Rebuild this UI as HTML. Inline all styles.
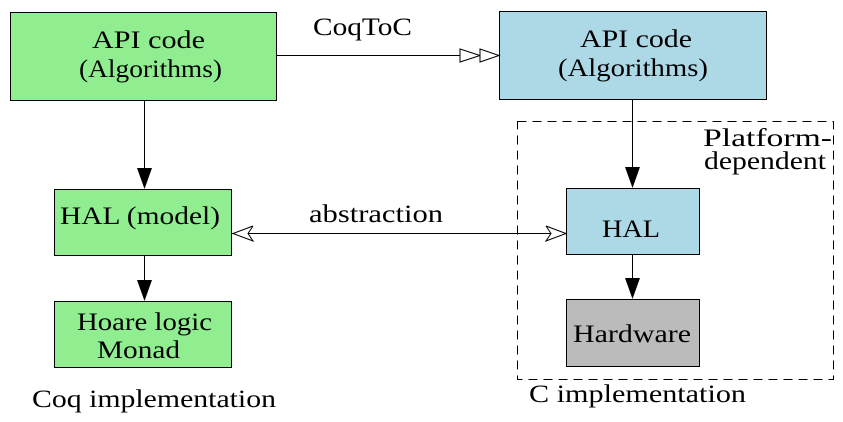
<!DOCTYPE html>
<html><head><meta charset="utf-8"><style>
html,body{margin:0;padding:0;background:#fff;}
svg{display:block;}
</style></head><body>
<svg width="843" height="422" viewBox="0 0 843 422" xmlns="http://www.w3.org/2000/svg">
<rect x="517.5" y="121.5" width="316" height="258" fill="none" stroke="#000" stroke-width="1" stroke-dasharray="9,6"/>
<rect x="10.5" y="12.5" width="266" height="88" fill="#90ee90" stroke="#000"/>
<rect x="499.5" y="11.5" width="267" height="88" fill="#add8e6" stroke="#000"/>
<rect x="54.5" y="189.5" width="177" height="66" fill="#90ee90" stroke="#000"/>
<rect x="54.5" y="301.5" width="177" height="66" fill="#90ee90" stroke="#000"/>
<rect x="566.5" y="188.5" width="133" height="66" fill="#add8e6" stroke="#000"/>
<rect x="566.5" y="299.5" width="133" height="67" fill="#bbbbbb" stroke="#000"/>
<line x1="276" y1="55.5" x2="460" y2="55.5" stroke="#000"/>
<polygon points="460,49 480,55.5 460,62" fill="#fff" stroke="#000"/>
<polygon points="480,49 499,55.5 480,62" fill="#fff" stroke="#000"/>
<line x1="144.5" y1="100" x2="144.5" y2="170" stroke="#000"/>
<polygon points="137,168 152,168 144.5,189" fill="#000"/>
<line x1="144.5" y1="255" x2="144.5" y2="282" stroke="#000"/>
<polygon points="137,280 152,280 144.5,301" fill="#000"/>
<line x1="632.5" y1="99" x2="632.5" y2="170" stroke="#000"/>
<polygon points="625,167 640,167 632.5,188" fill="#000"/>
<line x1="632.5" y1="254" x2="632.5" y2="280" stroke="#000"/>
<polygon points="625,278 640,278 632.5,299" fill="#000"/>
<line x1="232" y1="233.5" x2="566" y2="233.5" stroke="#000"/>
<polyline points="253,226 233,233.5 253,241 248,233.5 253,226" fill="#fff" stroke="#000"/>
<polyline points="546,226 566,233.5 546,241 551,233.5 546,226" fill="#fff" stroke="#000"/>
<g font-family="'Liberation Serif','DejaVu Serif',serif" font-size="25" fill="#000" lengthAdjust="spacingAndGlyphs">
<text x="92" y="48" textLength="113" lengthAdjust="spacingAndGlyphs">API code</text>
<text x="79" y="77" textLength="143" lengthAdjust="spacingAndGlyphs">(Algorithms)</text>
<text x="580" y="47" textLength="112" lengthAdjust="spacingAndGlyphs">API code</text>
<text x="558" y="76" textLength="150" lengthAdjust="spacingAndGlyphs">(Algorithms)</text>
<text x="313" y="35" textLength="99" lengthAdjust="spacingAndGlyphs">CoqToC</text>
<text x="309" y="222" textLength="134" lengthAdjust="spacingAndGlyphs">abstraction</text>
<text x="60" y="224" textLength="160" lengthAdjust="spacingAndGlyphs">HAL (model)</text>
<text x="602" y="237" textLength="58" lengthAdjust="spacingAndGlyphs">HAL</text>
<text x="77" y="330" textLength="135" lengthAdjust="spacingAndGlyphs">Hoare logic</text>
<text x="97" y="358" textLength="83" lengthAdjust="spacingAndGlyphs">Monad</text>
<text x="573" y="342" textLength="118" lengthAdjust="spacingAndGlyphs">Hardware</text>
<text x="703" y="146" textLength="129" lengthAdjust="spacingAndGlyphs">Platform-</text>
<text x="704" y="169" textLength="122" lengthAdjust="spacingAndGlyphs">dependent</text>
<text x="32" y="407" textLength="244" lengthAdjust="spacingAndGlyphs">Coq implementation</text>
<text x="529" y="402" textLength="217" lengthAdjust="spacingAndGlyphs">C implementation</text>
</g>
</svg>
</body></html>
